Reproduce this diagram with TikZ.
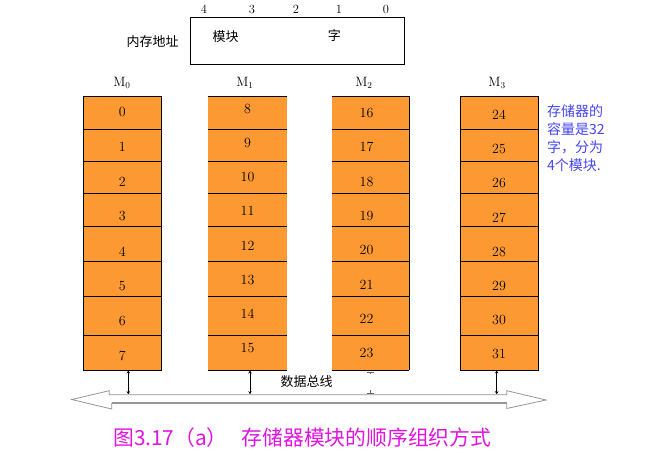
\documentclass[tikz,border=0pt]{standalone}
\usepackage{fontspec}
\newfontfamily\cjk{Noto Sans CJK SC}
\usetikzlibrary{arrows.meta}
\definecolor{cellorange}{RGB}{253,153,51}
\definecolor{notblue}{RGB}{70,70,245}
\definecolor{capmag}{RGB}{225,20,225}
\definecolor{busgray}{RGB}{150,150,150}
\tikzset{
  numtxt/.style={inner sep=0pt, font=\fontsize{14}{14}\selectfont},
  mlab/.style={inner sep=0pt, font=\fontsize{13.5}{13.5}\selectfont},
  bitlab/.style={inner sep=0pt, font=\fontsize{12.5}{12.5}\selectfont},
  cjktxt/.style={inner sep=0pt, font=\cjk\fontsize{13}{13}\selectfont},
  gridline/.style={black, line width=0.9pt},
  conn/.style={black, line width=0.7pt, {Stealth[length=3pt,width=3.5pt]}-{Stealth[length=3pt,width=3.5pt]}},
}
\begin{document}
\begin{tikzpicture}[x=1pt,y=-1pt]
\useasboundingbox (0,0) rectangle (671,465);
\fill[white] (0,0) rectangle (671,465);

% address box
\node[draw, line width=0.9pt, minimum width=214pt, minimum height=46.7pt, inner sep=0pt, anchor=north west] (addr) at (190.3,17.3) {};
\node[cjktxt] (addrlab) at (152.5,41.5) {内存地址};
\node[cjktxt] (modlab) at (225.5,37) {模块};
\node[cjktxt] (wordlab) at (334.3,36) {字};
\node[bitlab] (bit4) at (204,9) {4};
\node[bitlab] (bit3) at (252,9) {3};
\node[bitlab] (bit2) at (296,9) {2};
\node[bitlab] (bit1) at (339,9) {1};
\node[bitlab] (bit0) at (386,9) {0};

% columns
\def\rows{96,129.3,161.3,193.3,226,261.3,296.3,335.3,370}
% M0
\fill[cellorange] (83.3,96) rectangle (161.3,370);
\foreach \yy in \rows {\draw[gridline] (83.3,\yy) -- (161.3,\yy);}
\draw[gridline] (83.3,96) rectangle (161.3,370);
% M1
\fill[cellorange] (208.3,96) rectangle (286.7,370);
\foreach \yy in \rows {\draw[gridline] (208.3,\yy) -- (286.7,\yy);}
% M2
\fill[cellorange] (331.7,96) rectangle (409.3,370);
\foreach \yy in \rows {\draw[gridline] (331.7,\yy) -- (409.3,\yy);}
\draw[gridline] (409.3,96) -- (409.3,370);
% M3
\fill[cellorange] (460.7,96) rectangle (538.3,370);
\foreach \yy in \rows {\draw[gridline] (460.7,\yy) -- (538.3,\yy);}
\draw[gridline] (460.7,96) rectangle (538.3,370);

\node[mlab] (m0) at (122,83) {M$_0$};
\node[mlab] (m1) at (245,83) {M$_1$};
\node[mlab] (m2) at (364,83) {M$_2$};
\node[mlab] (m3) at (497,83) {M$_3$};

\foreach \k in {0,...,7} {
  \node[numtxt] (c0-\k) at (122.3, 111.7+34.9*\k) {\the\numexpr\k\relax};
  \node[numtxt] (c1-\k) at (247.5, 109+34.1*\k) {\the\numexpr\k+8\relax};
  \node[numtxt] (c2-\k) at (366.5, 113+34.3*\k) {\the\numexpr\k+16\relax};
  \node[numtxt] (c3-\k) at (499, 115+34.2*\k) {\the\numexpr\k+24\relax};
}

% note
\node[inner sep=0pt, anchor=north west, align=left, text=notblue,
      font=\cjk\fontsize{14}{18}\selectfont] (note) at (547,104)
  {存储器的\\容量是32\\字，分为\\4个模块.};

% bus arrow
\draw[busgray, line width=0.8pt, line join=miter]
  (71.7,399.5) -- (109.3,390.7) -- (109.3,394.7) -- (506.7,394.7) -- (506.7,390.7)
  -- (546,400) -- (506.7,408.5) -- (506.7,403.3) -- (111.7,403.3) -- (111.7,409) -- cycle;
\draw[busgray, line width=2pt] (111.7,403.3) -- (506.7,403.3);
\node[cjktxt] (buslab) at (306.5,382) {数据总线};

% connectors
\coordinate (b0) at (128.3,370.5); \coordinate (t0) at (128.3,394.2);
\coordinate (b1) at (250,370.5);   \coordinate (t1) at (250,394.2);
\coordinate (b3) at (496.7,370.5); \coordinate (t3) at (496.7,394.2);
\coordinate (b2) at (370,370.5);   \coordinate (t2) at (370,394.2);
\draw[conn] (b0) -- (t0);
\draw[conn] (b1) -- (t1);
\draw[conn] (b3) -- (t3);
\draw[black!60, line width=0.6pt] (366.5,372) -- (373.5,372) (370,372) -- (370,374);
\draw[black!60, line width=0.6pt] (366.5,393.5) -- (373.5,393.5) (370,393.5) -- (370,390);

% caption
\node[inner sep=0pt, anchor=west, text=capmag, font=\cjk\fontsize{20.8}{20.8}\selectfont] (caption) at (113,438)
  {图3.17（a）\hspace{14pt}存储器模块的顺序组织方式};
\end{tikzpicture}
\end{document}
